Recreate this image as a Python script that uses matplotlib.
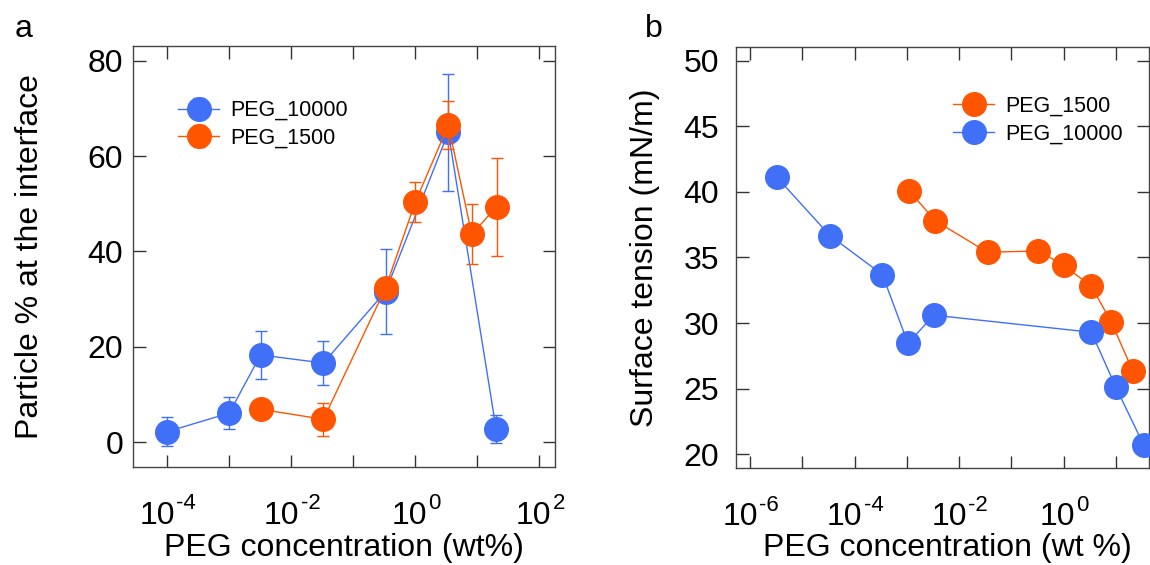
import numpy as np
import matplotlib
matplotlib.use("Agg")
import matplotlib.pyplot as plt
from matplotlib.ticker import FixedLocator, NullLocator

plt.rcParams['font.family'] = ['Liberation Sans', 'DejaVu Sans']

BLUE = '#4070f8'
ORANGE = '#ff5500'
FS = 23

# panel a: particle % at the interface
a_x_10000 = [1e-4, 1e-3, 3.2e-3, 3.3e-2, 0.33, 3.4, 20]
a_y_10000 = [2.2, 6.1, 18.3, 16.6, 31.6, 65.0, 2.8]
a_e_10000 = [3.1, 3.3, 5.0, 4.7, 9.0, 12.3, 3.0]

a_x_1500 = [3.2e-3, 3.3e-2, 0.33, 1.0, 3.4, 8.1, 20.4]
a_y_1500 = [6.9, 4.8, 32.3, 50.4, 66.5, 43.6, 49.4]
a_e_1500 = [1.0, 3.4, 1.0, 4.2, 5.1, 6.3, 10.3]

# panel b: surface tension
b_x_1500 = [1.1e-3, 3.5e-3, 3.5e-2, 0.33, 1.0, 3.4, 8.2, 21]
b_y_1500 = [40.1, 37.8, 35.4, 35.5, 34.4, 32.8, 30.06, 26.35]

b_x_10000 = [3.3e-6, 3.4e-5, 3.4e-4, 1.05e-3, 3.3e-3, 3.4, 10, 34]
b_y_10000 = [41.1, 36.66, 33.7, 28.46, 30.6, 29.3, 25.1, 20.7]

fig = plt.figure(figsize=(11.5, 5.65), dpi=100)
ax1 = fig.add_axes([0.1157, 0.1735, 0.3669, 0.7451])
ax2 = fig.add_axes([0.6397, 0.1712, 0.3593, 0.7461])

ms = 17
ax1.errorbar(a_x_10000, a_y_10000, yerr=a_e_10000, color=BLUE, marker='o', ms=ms,
             lw=1, elinewidth=1, capsize=4, label='PEG_10000', zorder=2)
ax1.errorbar(a_x_1500, a_y_1500, yerr=a_e_1500, color=ORANGE, marker='o', ms=ms,
             lw=1, elinewidth=1, capsize=4, label='PEG_1500', zorder=3)
ax1.set_xscale('log')
ax1.set_xlim(10**-4.55, 10**2.25)
ax1.set_ylim(-5.2, 83.1)
ax1.set_yticks([0, 20, 40, 60, 80])
ax1.set_xlabel('PEG concentration (wt%)', fontsize=FS)
ax1.set_ylabel('Particle % at the interface', fontsize=FS)
ax1.xaxis.set_label_coords(0.5, -0.212)
ax1.yaxis.set_label_coords(-0.225, 0.5)
ax1.legend(loc='upper left', bbox_to_anchor=(0.087, 0.892), frameon=False, fontsize=15.5,
           handlelength=1.9, handletextpad=0.5, labelspacing=0.3, borderaxespad=0)
ax1.tick_params(axis='y', pad=7)

ax2.plot(b_x_1500, b_y_1500, color=ORANGE, marker='o', ms=ms, lw=1, label='PEG_1500', zorder=2)
ax2.plot(b_x_10000, b_y_10000, color=BLUE, marker='o', ms=ms, lw=1, label='PEG_10000', zorder=3)
ax2.set_xscale('log')
ax2.set_xlim(10**-6.275, 10**1.63)
ax2.set_ylim(18.93, 51.07)
ax2.set_yticks([20, 25, 30, 35, 40, 45, 50])
ax2.set_xlabel('PEG concentration (wt %)', fontsize=FS)
ax2.set_ylabel('Surface tension (mN/m)', fontsize=FS)
ax2.xaxis.set_label_coords(0.512, -0.208)
ax2.yaxis.set_label_coords(-0.2, 0.5)
ax2.legend(loc='upper left', bbox_to_anchor=(0.5055, 0.904), frameon=False, fontsize=15.5,
           handlelength=1.9, handletextpad=0.5, labelspacing=0.3, borderaxespad=0)
ax2.tick_params(axis='y', pad=12)

for ax in (ax1, ax2):
    ax.xaxis.label.set_verticalalignment('baseline')
    ax.yaxis.label.set_verticalalignment('baseline')

renderer = fig.canvas.get_renderer()
for ax, lo, hi in [(ax1, -4, 2), (ax2, -6, 1)]:
    ax.xaxis.set_major_locator(FixedLocator([10.0**k for k in range(lo, hi + 1)]))
    ax.xaxis.set_minor_locator(NullLocator())
    ax.set_xticklabels([])
    ax.tick_params(direction='in', top=True, right=True, length=9, width=1,
                   labelsize=FS, color='#333333')
    for s in ax.spines.values():
        s.set_color('#444444')
        s.set_linewidth(1)
    # log tick labels as "10" with a raised exponent
    for k in range(lo, hi + 1, 2):
        base = ax.annotate('10', xy=(10.0**k, 0), xycoords=('data', 'axes fraction'),
                           xytext=(0, -41), textcoords='offset points',
                           ha='right', va='baseline', fontsize=FS)
        exp = ax.annotate(str(k), xy=(10.0**k, 0), xycoords=('data', 'axes fraction'),
                          xytext=(0, -30.5), textcoords='offset points',
                          ha='left', va='baseline', fontsize=16)
        wb = base.get_window_extent(renderer).width
        we = exp.get_window_extent(renderer).width
        j = (wb - we) / 2 * 72 / fig.dpi
        base.xyann = (j, -41)
        exp.xyann = (j + 1, -30.5)

fig.text(0.013, 0.9345, 'a', fontsize=FS, va='baseline')
fig.text(0.561, 0.9345, 'b', fontsize=FS, va='baseline')

fig.savefig('out.png', dpi=100)
